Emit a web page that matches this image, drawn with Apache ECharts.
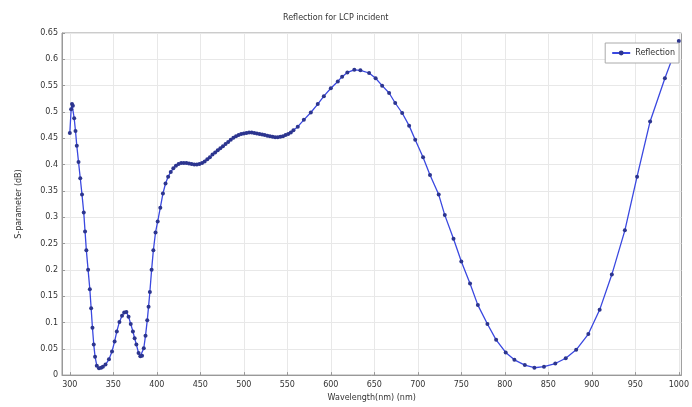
<!DOCTYPE html>
<html>
<head>
<meta charset="utf-8">
<script src="https://cdn.jsdelivr.net/npm/echarts@6/dist/echarts.min.js"></script>
<style>html,body{margin:0;padding:0;background:#fff}#c{width:692px;height:407px}</style>
</head>
<body>
<div id="c"></div>
<script>
const wavelength = [300,301.5,302.5,303.5,305,306.5,308,310,312,314,316,317.5,319,321,323,324.5,326,327.5,329,331,333.5,336,338,341,345,348.5,351.5,354,357,360,362.5,365,367.5,370,372.5,374.5,376.5,379,381,383,385,387,389,390.5,392,394,396,398.5,401,404,407,410,413,416,419,422,425,428,431,434,437,440,443,446,449,452,455,458,461,464,467,470,473,476,479,482,485,488,491,494,497,500,503,506,509,512,515,518,521,524,527,530,533,536,539,542,545,548,551,554,557,562,569,577,585,592,600,608,613,619,627,634,644,651.5,659,667,674,682,690,697,706,714,724,731,741,750,760,769,780,790,801,811,823,834,845,858,870,882,896,909,923,938,952,967,984,1000];
const reflection = [0.460,0.505,0.515,0.512,0.488,0.464,0.436,0.405,0.374,0.343,0.309,0.273,0.237,0.200,0.163,0.127,0.090,0.058,0.035,0.018,0.013,0.014,0.016,0.020,0.030,0.045,0.064,0.083,0.101,0.113,0.119,0.120,0.111,0.097,0.083,0.070,0.058,0.042,0.036,0.037,0.051,0.075,0.104,0.130,0.158,0.200,0.237,0.271,0.292,0.318,0.345,0.364,0.377,0.386,0.393,0.398,0.401,0.403,0.403,0.403,0.402,0.401,0.400,0.400,0.401,0.403,0.406,0.410,0.414,0.419,0.423,0.427,0.431,0.435,0.439,0.443,0.447,0.451,0.454,0.456,0.458,0.459,0.460,0.461,0.461,0.460,0.459,0.458,0.457,0.456,0.455,0.454,0.453,0.452,0.452,0.453,0.454,0.456,0.458,0.461,0.465,0.472,0.485,0.499,0.515,0.530,0.545,0.558,0.567,0.575,0.580,0.579,0.574,0.564,0.550,0.536,0.517,0.498,0.474,0.447,0.414,0.380,0.343,0.304,0.259,0.216,0.174,0.133,0.097,0.067,0.043,0.029,0.019,0.014,0.016,0.022,0.032,0.048,0.078,0.124,0.191,0.275,0.377,0.482,0.564,0.635];
const xTicks = [300,350,400,450,500,550,600,650,700,750,800,850,900,950,1000];
const titleText = 'Reflection for LCP incident';
const seriesName = 'Reflection';
const xName = 'Wavelength(nm) (nm)';
const yName = 'S-parameter (dB)';

const chart = echarts.init(document.getElementById('c'), null, {renderer: 'canvas'});
const font = 'DejaVu Sans';
chart.setOption({
  animation: false,
  backgroundColor: '#fff',
  title: {
    text: titleText, left: 278, top: 9,
    textStyle: {fontSize: 8, fontWeight: 'normal', color: '#333', fontFamily: font}
  },
  legend: {
    data: [seriesName], right: 13, top: 43,
    itemWidth: 18, itemHeight: 6, itemGap: 4,
    padding: [6, 4, 6, 6],
    borderColor: '#aaa', borderWidth: 1, borderRadius: 0,
    backgroundColor: '#fff',
    textStyle: {fontSize: 8, color: '#333', fontFamily: font}
  },
  grid: {left: 62, right: 6, top: 33, bottom: 24, show: true, borderColor: '#999', borderWidth: 1},
  xAxis: {
    type: 'value', min: 291, max: 1003,
    name: xName, nameLocation: 'middle', nameGap: 14,
    nameTextStyle: {fontSize: 8, color: '#333', fontFamily: font},
    axisLine: {show: true, lineStyle: {color: '#999'}},
    axisTick: {show: true, inside: true, length: 3, customValues: xTicks, lineStyle: {color: '#999'}},
    axisLabel: {customValues: xTicks, fontSize: 8, color: '#333', margin: 6, fontFamily: font,
      formatter: v => String(v)},
    splitLine: {show: true, lineStyle: {color: '#e8e8e8', width: 1}}
  },
  yAxis: {
    type: 'value', min: 0, max: 0.65, interval: 0.05,
    name: yName, nameLocation: 'middle', nameGap: 39, nameRotate: 90,
    nameTextStyle: {fontSize: 8, color: '#333', fontFamily: font},
    axisLine: {show: true, lineStyle: {color: '#999'}},
    axisTick: {show: true, inside: true, length: 3, lineStyle: {color: '#999'}},
    axisLabel: {fontSize: 8, color: '#333', margin: 4, fontFamily: font},
    splitLine: {show: true, lineStyle: {color: '#e8e8e8', width: 1}}
  },
  series: [{
    name: seriesName, type: 'line',
    data: wavelength.map((w, i) => [w, reflection[i]]),
    symbol: 'circle', symbolSize: 4, showSymbol: true,
    lineStyle: {color: '#3a48e0', width: 1.3},
    itemStyle: {color: '#2c358f', borderWidth: 0},
    smooth: false
  }]
});
</script>
</body>
</html>
